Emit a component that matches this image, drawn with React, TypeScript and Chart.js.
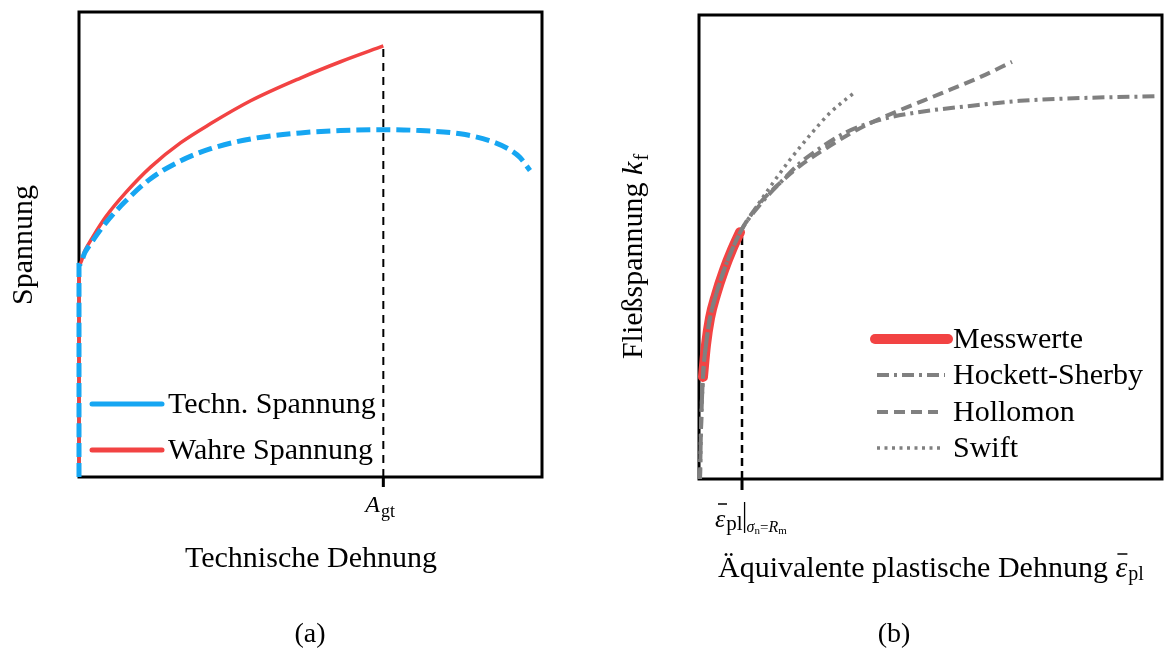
import React, { useEffect, useRef } from 'react';
import { Chart, registerables } from 'chart.js';

Chart.register(...registerables);

const SERIF = '"Liberation Serif", "Times New Roman", Times, serif';
const RED = '#F24343';
const BLUE = '#16A6F2';
const GRAY = '#808080';

// ---------- (a) Technische Dehnung / Spannung ----------
const technX = [0, 0, 1.29, 3.02, 5.82, 10.13, 15.52, 21.98, 28.45, 37.07, 47.84, 56.47, 65.73, 73.71, 82.33, 88.79, 92.67, 95.26, 97.41];
const technY = [0, 45.5, 48.3, 50.9, 54.7, 59.4, 64.2, 68.0, 70.6, 72.7, 74.0, 74.5, 74.7, 74.5, 73.8, 72.3, 70.6, 68.7, 65.9];
const wahreX = [0, 0, 1.29, 3.02, 5.82, 10.13, 15.52, 21.98, 28.45, 37.07, 47.84, 56.47, 65.73];
const wahreY = [0, 45.5, 48.7, 51.7, 56.0, 61.2, 66.7, 71.9, 76.0, 80.9, 85.8, 89.3, 92.7];
const agtX = 65.73;
const leftLegendLabels = ['Techn. Spannung', 'Wahre Spannung'];

// ---------- (b) Äquivalente plastische Dehnung / Fließspannung ----------
const messX = [0.86, 1.51, 2.38, 3.67, 5.4, 7.13, 8.86];
const messY = [22.0, 28.9, 34.7, 39.7, 45.0, 49.4, 53.2];
const hsX = [0.22, 0.43, 0.86, 1.51, 2.38, 3.67, 5.4, 7.13, 9.29, 13.17, 17.49, 21.81, 26.13, 31.53, 39.09, 47.73, 58.53, 69.33, 82.29, 99.14];
const hsY = [0, 10.6, 22.0, 28.9, 34.7, 39.7, 45.0, 49.4, 53.9, 59.1, 63.8, 68.1, 71.3, 74.6, 77.4, 79.1, 80.4, 81.5, 82.1, 82.5];
const holX = [0.22, 0.43, 0.86, 1.51, 2.38, 3.67, 5.4, 7.13, 9.29, 13.17, 17.49, 21.81, 28.29, 34.77, 43.41, 52.05, 60.69, 67.6];
const holY = [0, 10.6, 22.0, 28.9, 34.7, 39.7, 45.0, 49.4, 53.9, 59.5, 63.8, 67.5, 71.8, 75.6, 79.5, 83.0, 86.6, 89.9];
const swiftX = [9.29, 12.1, 15.33, 19.65, 23.97, 28.29, 33.69];
const swiftY = [53.9, 58.2, 62.9, 68.8, 74.1, 78.9, 83.4];
const rmX = 9.29;
const rmTopY = 53.0;
const rightLegendLabels = ['Messwerte', 'Hockett-Sherby', 'Hollomon', 'Swift'];

const HS_DASH = [12, 5, 3, 5];
const HOL_DASH = [11, 6];
const SWIFT_DASH = [3, 4.5];

const zip = (xs: number[], ys: number[]) => xs.map((x, i) => ({ x, y: ys[i] }));

function txt(ctx: CanvasRenderingContext2D, s: string, x: number, y: number, size: number, italic = false, align: CanvasTextAlign = 'left', baseline: CanvasTextBaseline = 'alphabetic') {
  ctx.font = `${italic ? 'italic ' : ''}${size}px ${SERIF}`;
  ctx.textAlign = align;
  ctx.textBaseline = baseline;
  ctx.fillStyle = '#000';
  ctx.fillText(s, x, y);
  return ctx.measureText(s).width;
}

function seg(ctx: CanvasRenderingContext2D, x1: number, y1: number, x2: number, y2: number, color: string, width: number, dash: number[] = [], cap: CanvasLineCap = 'butt') {
  ctx.save();
  ctx.beginPath();
  ctx.strokeStyle = color;
  ctx.lineWidth = width;
  ctx.setLineDash(dash);
  ctx.lineCap = cap;
  ctx.moveTo(x1, y1);
  ctx.lineTo(x2, y2);
  ctx.stroke();
  ctx.restore();
}

const framePlugin = {
  id: 'frame',
  beforeDatasetsDraw(chart: any) {
    const { ctx, chartArea: a } = chart;
    ctx.save();
    ctx.strokeStyle = '#000';
    ctx.lineWidth = 3;
    ctx.setLineDash([]);
    ctx.strokeRect(a.left, a.top, a.right - a.left, a.bottom - a.top);
    ctx.restore();
  },
};

const leftDecor = {
  id: 'leftDecor',
  afterDraw(chart: any) {
    const { ctx, chartArea: a, scales } = chart;
    ctx.save();
    // legend
    seg(ctx, 92, 404, 162, 404, BLUE, 5, [], 'round');
    txt(ctx, leftLegendLabels[0], 168, 405, 30, false, 'left', 'middle');
    seg(ctx, 92, 450, 162, 450, RED, 5, [], 'round');
    txt(ctx, leftLegendLabels[1], 168, 451, 30, false, 'left', 'middle');
    // tick at A_gt
    const xp = scales.x.getPixelForValue(agtX);
    seg(ctx, xp, a.bottom, xp, a.bottom + 10, '#000', 3);
    const wA = txt(ctx, 'A', xp - 18, 512, 24, true);
    txt(ctx, 'gt', xp - 18 + wA + 1, 517, 18);
    // axis titles
    txt(ctx, 'Technische Dehnung', 311, 567, 30, false, 'center');
    txt(ctx, '(a)', 310, 642, 28, false, 'center');
    ctx.translate(32, 245);
    ctx.rotate(-Math.PI / 2);
    txt(ctx, 'Spannung', 0, 0, 30, false, 'center');
    ctx.restore();
  },
};

const rightDecor = {
  id: 'rightDecor',
  afterDraw(chart: any) {
    const { ctx, chartArea: a, scales } = chart;
    ctx.save();
    // legend
    const lx = 371;
    seg(ctx, 293, 339, 366, 339, RED, 10, [], 'round');
    txt(ctx, rightLegendLabels[0], lx, 340, 30, false, 'left', 'middle');
    seg(ctx, 295, 375, 363, 375, GRAY, 4, HS_DASH);
    txt(ctx, rightLegendLabels[1], lx, 376, 30, false, 'left', 'middle');
    seg(ctx, 295, 412, 356, 412, GRAY, 4, HOL_DASH);
    txt(ctx, rightLegendLabels[2], lx, 413, 30, false, 'left', 'middle');
    seg(ctx, 295, 448, 358, 448, GRAY, 3.5, SWIFT_DASH);
    txt(ctx, rightLegendLabels[3], lx, 449, 30, false, 'left', 'middle');

    // tick at eps_pl | sigma_n = R_m
    const xp = scales.x.getPixelForValue(rmX);
    seg(ctx, xp, a.bottom, xp, a.bottom + 11, '#000', 3);
    let x = 133;
    const we = txt(ctx, 'ε', x, 527, 26, true);
    seg(ctx, x + 3, 504, x + 12, 504, '#000', 1.5);
    x += we + 1;
    x += txt(ctx, 'pl', x, 530, 21);
    seg(ctx, x + 2, 502, x + 2, 533, '#000', 1.3);
    x += 4;
    x += txt(ctx, 'σ', x, 532, 16, true);
    x += txt(ctx, 'n', x, 534, 11);
    x += txt(ctx, '=', x, 532, 15);
    x += txt(ctx, 'R', x, 532, 16, true);
    txt(ctx, 'm', x, 534, 11);

    // x title
    let tx = 136;
    tx += txt(ctx, 'Äquivalente plastische Dehnung ', tx, 577, 30);
    const w2 = txt(ctx, 'ε', tx, 577, 30, true);
    seg(ctx, tx + 2, 554, tx + 12, 554, '#000', 1.5);
    txt(ctx, 'pl', tx + w2 + 1, 580, 20);

    txt(ctx, '(b)', 312, 642, 28, false, 'center');

    // y title
    ctx.translate(60, 257);
    ctx.rotate(-Math.PI / 2);
    ctx.font = `30px ${SERIF}`;
    const s1 = 'Fließspannung ';
    const w1 = ctx.measureText(s1).width;
    ctx.font = `italic 30px ${SERIF}`;
    const wk = ctx.measureText('k').width;
    ctx.font = `20px ${SERIF}`;
    const wf = ctx.measureText('f').width;
    let yx = -(w1 + wk + wf) / 2;
    yx += txt(ctx, s1, yx, 0, 30);
    yx += txt(ctx, 'k', yx, 0, 30, true);
    txt(ctx, 'f', yx + 1, 6, 20);
    ctx.restore();
  },
};

const baseOptions = (padding: any) => ({
  responsive: false,
  animation: false as const,
  devicePixelRatio: 1,
  events: [] as any[],
  layout: { padding },
  scales: {
    x: { type: 'linear' as const, min: 0, max: 100, display: false },
    y: { type: 'linear' as const, min: 0, max: 100, display: false },
  },
  plugins: { legend: { display: false }, tooltip: { enabled: false } },
  elements: { point: { radius: 0 } },
});

export default function App() {
  const leftRef = useRef<HTMLCanvasElement>(null);
  const rightRef = useRef<HTMLCanvasElement>(null);

  useEffect(() => {
    const left = new Chart(leftRef.current as HTMLCanvasElement, {
      type: 'line',
      data: {
        datasets: [
          { label: leftLegendLabels[0], data: zip(technX, technY), borderColor: BLUE, borderWidth: 5, borderDash: [14, 6], cubicInterpolationMode: 'monotone', clip: false as any, order: 0, pointRadius: 0 },
          { label: leftLegendLabels[1], data: zip(wahreX, wahreY), borderColor: RED, borderWidth: 3.5, cubicInterpolationMode: 'monotone', clip: false as any, order: 1, pointRadius: 0 },
          { label: 'Agt', data: [{ x: agtX, y: 0 }, { x: agtX, y: wahreY[wahreY.length - 1] }], borderColor: '#000', borderWidth: 2, borderDash: [8, 6], clip: false as any, order: 2, pointRadius: 0 },
        ],
      },
      options: baseOptions({ left: 79, top: 12, right: 40, bottom: 175 }) as any,
      plugins: [framePlugin, leftDecor],
    });

    const right = new Chart(rightRef.current as HTMLCanvasElement, {
      type: 'line',
      data: {
        datasets: [
          { label: rightLegendLabels[1], data: zip(hsX, hsY), borderColor: GRAY, borderWidth: 4, borderDash: HS_DASH, cubicInterpolationMode: 'monotone', clip: false as any, order: 0, pointRadius: 0 },
          { label: rightLegendLabels[2], data: zip(holX, holY), borderColor: GRAY, borderWidth: 4, borderDash: HOL_DASH, cubicInterpolationMode: 'monotone', clip: false as any, order: 1, pointRadius: 0 },
          { label: rightLegendLabels[3], data: zip(swiftX, swiftY), borderColor: GRAY, borderWidth: 3.5, borderDash: SWIFT_DASH, cubicInterpolationMode: 'monotone', clip: false as any, order: 2, pointRadius: 0 },
          { label: rightLegendLabels[0], data: zip(messX, messY), borderColor: RED, borderWidth: 10, borderCapStyle: 'round', cubicInterpolationMode: 'monotone', clip: false as any, order: 3, pointRadius: 0 },
          { label: 'Rm', data: [{ x: rmX, y: 0 }, { x: rmX, y: rmTopY }], borderColor: '#000', borderWidth: 2.5, borderDash: [8, 5], clip: false as any, order: 4, pointRadius: 0 },
        ],
      },
      options: baseOptions({ left: 117, top: 15, right: 2, bottom: 173 }) as any,
      plugins: [framePlugin, rightDecor],
    });

    return () => {
      left.destroy();
      right.destroy();
    };
  }, []);

  return (
    <div style={{ position: 'absolute', left: 0, top: 0, width: 1164, height: 652, background: '#fff' }}>
      <canvas ref={leftRef} width={582} height={652} style={{ position: 'absolute', left: 0, top: 0, width: 582, height: 652 }} />
      <canvas ref={rightRef} width={582} height={652} style={{ position: 'absolute', left: 582, top: 0, width: 582, height: 652 }} />
    </div>
  );
}
